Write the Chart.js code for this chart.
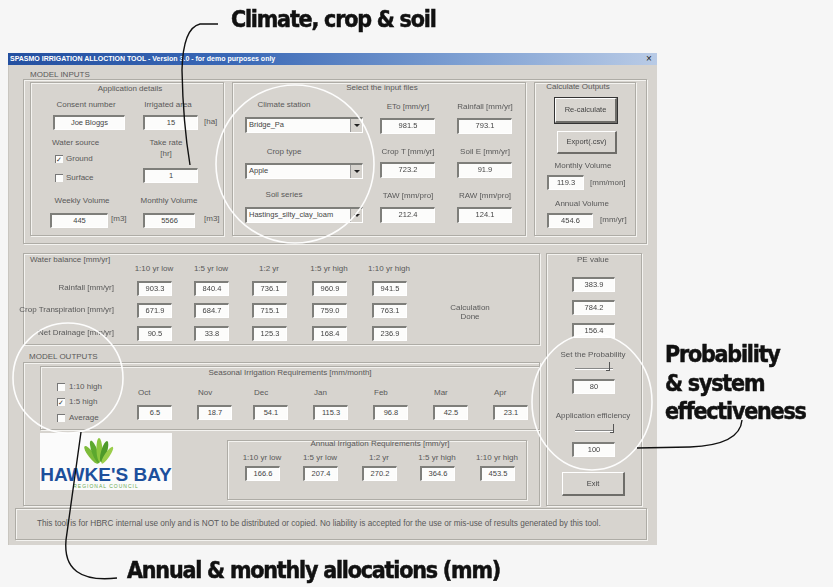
<!DOCTYPE html>
<html>
<head>
<meta charset="utf-8">
<script src="https://cdn.jsdelivr.net/npm/chart.js@4/dist/chart.umd.min.js"></script>
<style>
html,body{margin:0;padding:0;}
body{width:833px;height:587px;background:#f6f6f6;overflow:hidden;position:relative;font-family:"Liberation Sans",Arial,sans-serif;}
#win{position:absolute;left:0;top:0;width:833px;height:587px;filter:blur(0.6px);}
.abs{position:absolute;box-sizing:border-box;}
.lbl{position:absolute;font-size:8px;line-height:10px;color:#595959;white-space:nowrap;}
.box{position:absolute;box-sizing:border-box;background:#fcfcfb;border-top:2px solid #7e7e7a;border-left:2px solid #7e7e7a;border-right:1px solid #fff;border-bottom:1px solid #fff;font-size:7.5px;color:#444;text-align:center;line-height:12px;}
.frame{position:absolute;box-sizing:border-box;border:1px solid #aeaca6;box-shadow:1px 1px 0 #f4f3f0, inset 1px 1px 0 #f4f3f0;}
.combo{position:absolute;box-sizing:border-box;background:#fcfcfb;border-top:2px solid #7e7e7a;border-left:2px solid #7e7e7a;border-right:1px solid #fff;border-bottom:1px solid #fff;font-size:7.5px;color:#444;line-height:12px;padding-left:2px;}
.combo .btn{position:absolute;right:0;top:0;width:11px;height:100%;background:#d6d3ce;border-left:1px solid #999;}
.combo .btn:after{content:"";position:absolute;left:3px;top:5px;border-left:3px solid transparent;border-right:3px solid transparent;border-top:3px solid #222;}
.button{position:absolute;box-sizing:border-box;background:#d8d5d0;border-top:1px solid #fff;border-left:1px solid #fff;border-right:2px solid #6e6d69;border-bottom:2px solid #6e6d69;font-size:7.5px;color:#444;text-align:center;}
.chk{position:absolute;width:8px;height:8px;box-sizing:border-box;background:#fcfcfb;border-top:1px solid #777;border-left:1px solid #777;font-size:7px;line-height:7px;color:#333;}
.anno{position:absolute;font-family:"DejaVu Sans Condensed","DejaVu Sans",sans-serif;font-weight:bold;font-size:23px;letter-spacing:-1.2px;color:#111;white-space:nowrap;line-height:26px;-webkit-text-stroke:0.5px #111;}
#overlay{position:absolute;left:0;top:0;pointer-events:none;}
</style>
</head>
<body>
<div id="win"></div>
<canvas id="overlay" width="833" height="587"></canvas>
<div class="anno" style="left:231px;top:6px;">Climate, crop &amp; soil</div>
<div class="anno" style="left:665px;top:340px;line-height:28.5px;">Probability<br>&amp; system<br>effectiveness</div>
<div class="anno" style="left:127px;top:557px;">Annual &amp; monthly allocations (mm)</div>
<script>
// ---------- data ----------
const windowTitle = "SPASMO IRRIGATION ALLOCTION TOOL - Version 3.0 - for demo purposes only";
const applicationLabels = ["Consent number", "Irrigated area", "Take rate", "Weekly Volume", "Monthly Volume"];
const applicationValues = ["Joe Bloggs", "15", "1", "445", "5566"];
const climateFileLabels = ["Climate station", "Crop type", "Soil series"];
const climateFileValues = ["Bridge_Pa", "Apple", "Hastings_silty_clay_loam"];
const inputSummaryLabels = ["ETo [mm/yr]", "Rainfall [mm/yr]", "Crop T [mm/yr]", "Soil E [mm/yr]", "TAW [mm/pro]", "RAW [mm/pro]"];
const inputSummaryValues = [981.5, 793.1, 723.2, 91.9, 212.4, 124.1];
const outputVolumes = [119.3, 454.6];
const probabilityColumns = ["1:10 yr low", "1:5 yr low", "1:2 yr", "1:5 yr high", "1:10 yr high"];
const waterBalanceRows = ["Rainfall [mm/yr]", "Crop Transpiration [mm/yr]", "Net Drainage [mm/yr]"];
const rainfallValues = [903.3, 840.4, 736.1, 960.9, 941.5];
const transpirationValues = [671.9, 684.7, 715.1, 759.0, 763.1];
const drainageValues = [90.5, 33.8, 125.3, 168.4, 236.9];
const peValues = [383.9, 784.2, 156.4];
const outputOptions = ["1:10 high", "1:5 high", "Average"];
const months = ["Oct", "Nov", "Dec", "Jan", "Feb", "Mar", "Apr"];
const seasonalValues = [6.5, 18.7, 54.1, 115.3, 96.8, 42.5, 23.1];
const annualValues = [166.6, 207.4, 270.2, 364.6, 453.5];
const probabilitySetting = 80;
const applicationEfficiency = 100;

// ---------- UI helpers ----------
const root = document.getElementById('win');
function add(cls, x, y, w, h, text){
  const d = document.createElement('div');
  d.className = cls;
  d.style.left = x + 'px'; d.style.top = y + 'px';
  if (w != null) d.style.width = w + 'px';
  if (h != null) d.style.height = h + 'px';
  if (text != null) d.textContent = text;
  root.appendChild(d);
  return d;
}
function lbl(text, x, y, align){
  align = align || 'center';
  const d = add('lbl', 0, y - 5, null, null, text);
  if (align === 'center'){ d.style.left = (x - 100) + 'px'; d.style.width = '200px'; d.style.textAlign = 'center'; }
  else if (align === 'right'){ d.style.left = (x - 200) + 'px'; d.style.width = '200px'; d.style.textAlign = 'right'; }
  else { d.style.left = x + 'px'; }
  return d;
}
function fmt(v){ return typeof v === 'number' ? v.toFixed(1) : v; }
function box(x, y, w, h, v){ return add('box', x, y, w, h, fmt(v)); }
function frame(x, y, w, h){ return add('frame', x, y, w, h); }

// window
const body = add('abs', 8, 53, 649, 492); body.style.background = '#d7d4cf';
body.style.borderLeft = '1px solid #c9c6c0';
const tb = add('abs', 8, 53, 649, 12);
tb.style.background = 'linear-gradient(90deg,#2450a0 0%,#3a68b6 35%,#7d9fd2 70%,#b9cbe6 100%)';
const tt = add('abs', 10, 53, 600, 12, windowTitle);
tt.style.color = '#fff'; tt.style.fontSize = '7px'; tt.style.fontWeight = 'bold'; tt.style.lineHeight = '12px'; tt.style.whiteSpace = 'nowrap';
const cx = add('abs', 646, 53, 10, 12, '×'); cx.style.fontSize = '10px'; cx.style.lineHeight = '12px'; cx.style.color = '#222';

// frames
frame(23, 79, 624, 165);
frame(30, 82, 194, 154);
frame(232, 82, 294, 154);
frame(534, 82, 102, 154);
frame(23, 253, 517, 92);
frame(546, 253, 96, 253);
frame(23, 362, 517, 144);
frame(40, 366, 500, 64);
frame(227, 440, 300, 60);
frame(15, 508, 632, 32);

lbl("MODEL INPUTS", 30, 75, 'left');
lbl("Application details", 130, 89);
lbl("Select the input files", 382, 88);
lbl("Calculate Outputs", 578, 87);

// application details
lbl(applicationLabels[0], 86, 105);
box(53, 115, 72, 15, applicationValues[0]);
lbl(applicationLabels[1], 168, 105);
box(143, 115, 55, 15, applicationValues[1]);
lbl("[ha]", 204, 122, 'left');
lbl("Water source", 52, 143, 'left');
add('chk', 55, 155, null, null, '✓');
lbl("Ground", 66, 159, 'left');
add('chk', 55, 174);
lbl("Surface", 66, 178, 'left');
lbl(applicationLabels[2], 166, 143);
lbl("[hr]", 166, 154);
box(143, 168, 55, 15, applicationValues[2]);
lbl(applicationLabels[3], 82, 201);
box(50, 213, 58, 15, applicationValues[3]);
lbl("[m3]", 111, 219, 'left');
lbl(applicationLabels[4], 169, 201);
box(143, 213, 52, 15, applicationValues[4]);
lbl("[m3]", 204, 219, 'left');

// input files
const comboY = [117, 163, 207];
const comboLblY = [105, 152, 195];
climateFileLabels.forEach((t, i) => {
  lbl(t, 284, comboLblY[i]);
  const c = add('combo', 245, comboY[i], 118, 16, climateFileValues[i]);
  const b = document.createElement('div'); b.className = 'btn'; c.appendChild(b);
});
const sumX = [380, 457];
const sumY = [118, 162, 207];
const sumLblY = [107, 152, 196];
inputSummaryLabels.forEach((t, i) => {
  const col = i % 2, row = Math.floor(i / 2);
  lbl(t, sumX[col] + 28, sumLblY[row]);
  box(sumX[col], sumY[row], 55, 16, inputSummaryValues[i]);
});

// calculate outputs
const b1 = add('button', 555, 98, 62, 25, 'Re-calculate'); b1.style.lineHeight = '21px'; b1.style.outline = '1px solid #333';
const b2 = add('button', 557, 131, 60, 23, 'Export(.csv)'); b2.style.lineHeight = '20px';
lbl("Monthly Volume", 583, 166);
box(547, 175, 37, 15, outputVolumes[0]);
lbl("[mm/mon]", 590, 183, 'left');
lbl("Annual Volume", 582, 204);
box(547, 213, 46, 15, outputVolumes[1]);
lbl("[mm/yr]", 600, 220, 'left');

// water balance
lbl("Water balance [mm/yr]", 30, 260, 'left');
const wbX = [137, 194, 252, 312, 372];
probabilityColumns.forEach((t, i) => lbl(t, wbX[i] + 17, 269));
const wbY = [281, 303, 326];
[rainfallValues, transpirationValues, drainageValues].forEach((arr, r) => {
  lbl(waterBalanceRows[r], 114, wbY[r] + 7, 'right');
  arr.forEach((v, i) => box(wbX[i], wbY[r], 35, 15, v));
});
lbl("Calculation", 470, 308);
lbl("Done", 470, 317);

// PE values
lbl("PE value", 593, 260);
const peY = [277, 300, 323];
peValues.forEach((v, i) => box(572, peY[i], 43, 15, v));

// model outputs
lbl("MODEL OUTPUTS", 29, 357, 'left');
lbl("Seasonal Irrigation Requirements [mm/month]", 290, 373);
const optY = [383, 398, 414];
outputOptions.forEach((t, i) => {
  add('chk', 57, optY[i], null, null, i === 1 ? '✓' : '');
  lbl(t, 69, optY[i] + 4, 'left');
});
const monX = [137, 197, 253, 313, 373, 433, 493];
months.forEach((m, i) => {
  lbl(m, monX[i] + 1, 393, 'left');
  box(monX[i], 405, 35, 15, seasonalValues[i]);
});

// annual requirements
lbl("Annual Irrigation Requirements [mm/yr]", 380, 444);
const anX = [245, 303, 362, 420, 480];
probabilityColumns.forEach((t, i) => {
  lbl(t, anX[i] + 17, 458);
  box(anX[i], 466, 35, 15, annualValues[i]);
});

// probability & efficiency
lbl("Set the Probability", 593, 355);
const s1 = add('abs', 575, 368, 38, 2); s1.style.borderTop = '1px solid #888'; s1.style.borderBottom = '1px solid #fff';
const t1 = add('abs', 606, 362, 4, 9); t1.style.borderRight = '1px solid #555'; t1.style.borderBottom = '1px solid #555';
box(572, 379, 43, 15, String(probabilitySetting));
lbl("Application efficiency", 593, 416);
const s2 = add('abs', 575, 430, 38, 2); s2.style.borderTop = '1px solid #888'; s2.style.borderBottom = '1px solid #fff';
const t2 = add('abs', 610, 424, 4, 9); t2.style.borderRight = '1px solid #555'; t2.style.borderBottom = '1px solid #555';
box(572, 442, 43, 15, String(applicationEfficiency));
const ex = add('button', 562, 472, 63, 24, 'Exit'); ex.style.lineHeight = '21px';

// logo
const logo = add('abs', 40, 433, 132, 57); logo.style.background = '#fbfbfb';
logo.innerHTML = '<svg width="132" height="57" style="position:absolute;left:0;top:0">' +
 '<g transform="translate(60,33)">' +
 '<ellipse cx="0" cy="-14" rx="3" ry="11" fill="#7dbb3a" transform="rotate(-38)"/>' +
 '<ellipse cx="0" cy="-15" rx="3" ry="12" fill="#5ca82e" transform="rotate(-20)"/>' +
 '<ellipse cx="0" cy="-16" rx="3" ry="12" fill="#8cc63f" transform="rotate(-2)"/>' +
 '<ellipse cx="0" cy="-15" rx="3" ry="11" fill="#4e9a2a" transform="rotate(16)"/>' +
 '<ellipse cx="0" cy="-13" rx="2.5" ry="10" fill="#9acd4a" transform="rotate(34)"/>' +
 '</g></svg>';
const lt = add('abs', 40, 466, 132, 18, "HAWKE'S BAY");
lt.style.color = '#1d4f9c'; lt.style.fontWeight = 'bold'; lt.style.fontSize = '19px'; lt.style.lineHeight = '18px'; lt.style.textAlign = 'center'; lt.style.fontFamily = '"Liberation Sans",Arial,sans-serif';
const ls = add('abs', 40, 483, 132, 7, "REGIONAL COUNCIL");
ls.style.color = '#6aa84f'; ls.style.fontSize = '5px'; ls.style.lineHeight = '7px'; ls.style.textAlign = 'center'; ls.style.letterSpacing = '1px';

// footer
lbl("This tool is for HBRC internal use only and is NOT to be distributed or copied. No liability is accepted for the use or mis-use of results generated by this tool.", 37, 524, 'left').style.fontSize = '8.2px';

// ---------- Chart.js overlay: highlight circles and callout connectors ----------
const callouts = {
  circles: [[295, 164, 79, 79], [68, 378, 55, 55], [592, 402, 60, 68]],
  connectors: [
    [[218, 24], [200, 24], [183, 28], [182, 70], [183, 123], [190, 165], [217, 170]],
    [[81, 432], [66, 540], [62, 584], [117, 578]],
    [[637, 448], [690, 447], [740, 445], [742, 420]]
  ]
};
const calloutPlugin = {
  id: 'callouts',
  afterDraw(chart) {
    const ctx = chart.ctx, sx = chart.scales.x, sy = chart.scales.y;
    const X = v => sx.getPixelForValue(v), Y = v => sy.getPixelForValue(v);
    ctx.save();
    ctx.strokeStyle = 'rgba(255,255,255,0.95)';
    ctx.lineWidth = 1.6;
    callouts.circles.forEach(c => {
      ctx.beginPath();
      ctx.ellipse(X(c[0]), Y(c[1]), c[2], c[3], 0, 0, Math.PI * 2);
      ctx.stroke();
    });
    ctx.strokeStyle = '#111';
    ctx.lineWidth = 1.4;
    callouts.connectors.forEach(p => {
      ctx.beginPath();
      ctx.moveTo(X(p[0][0]), Y(p[0][1]));
      ctx.lineTo(X(p[1][0]), Y(p[1][1]));
      for (let i = 2; i + 1 < p.length; i += 2) {
        ctx.quadraticCurveTo(X(p[i][0]), Y(p[i][1]), X(p[i + 1][0]), Y(p[i + 1][1]));
      }
      ctx.stroke();
    });
    ctx.restore();
  }
};
new Chart(document.getElementById('overlay'), {
  type: 'scatter',
  data: { datasets: [] },
  options: {
    responsive: false, animation: false, events: [],
    layout: { padding: 0 },
    plugins: { legend: { display: false }, tooltip: { enabled: false } },
    scales: {
      x: { type: 'linear', min: 0, max: 833, display: false },
      y: { type: 'linear', min: 0, max: 587, reverse: true, display: false }
    }
  },
  plugins: [calloutPlugin]
});
</script>
</body>
</html>
